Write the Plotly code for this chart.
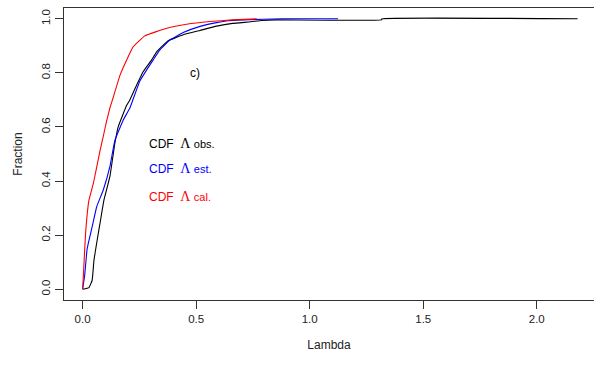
import plotly.graph_objects as go

# Empirical CDFs of Lambda: observed, estimated, calculated
obs_lambda = [0, 0.028, 0.042, 0.05, 0.064, 0.079, 0.094, 0.12, 0.142, 0.157, 0.194,
              0.208, 0.238, 0.267, 0.304, 0.326, 0.377, 0.443, 0.517, 0.59, 0.66,
              0.74, 0.79, 0.85, 1.317, 1.317, 2.18]
obs_frac = [0, 0.006, 0.033, 0.107, 0.181, 0.256, 0.33, 0.416, 0.54, 0.601, 0.68,
            0.70, 0.755, 0.805, 0.848, 0.878, 0.919, 0.941, 0.957, 0.973, 0.983,
            0.989, 0.994, 0.996, 0.996, 1.0, 1.0]

est_lambda = [0, 0.009, 0.02, 0.042, 0.062, 0.091, 0.12, 0.142, 0.179, 0.208, 0.252,
              0.282, 0.311, 0.34, 0.385, 0.443, 0.517, 0.59, 0.64, 0.71, 0.88, 1.125]
est_frac = [0, 0.05, 0.15, 0.231, 0.305, 0.367, 0.453, 0.55, 0.626, 0.67, 0.77,
            0.811, 0.848, 0.885, 0.922, 0.949, 0.972, 0.986, 0.993, 0.996, 1.0, 1.0]

cal_lambda = [0, 0.006, 0.013, 0.028, 0.047, 0.076, 0.091, 0.105, 0.12, 0.135, 0.164,
              0.194, 0.223, 0.274, 0.37, 0.458, 0.56, 0.66, 0.767]
cal_frac = [0, 0.095, 0.206, 0.33, 0.39, 0.51, 0.565, 0.62, 0.67, 0.71, 0.79,
            0.848, 0.897, 0.937, 0.965, 0.98, 0.99, 0.996, 1.0]

x_ticks = [0.0, 0.5, 1.0, 1.5, 2.0]
y_ticks = [0.0, 0.2, 0.4, 0.6, 0.8, 1.0]

series = [
    ("obs.", obs_lambda, obs_frac, "#000000"),
    ("est.", est_lambda, est_frac, "#0000FF"),
    ("cal.", cal_lambda, cal_frac, "#FF0000"),
]

fig = go.Figure()
for name, xs, ys, col in series:
    fig.add_trace(go.Scatter(x=xs, y=ys, mode="lines", name=name,
                             line=dict(color=col, width=1.1, shape="spline", smoothing=0.3),
                             showlegend=False))

# Panel label and in-plot legend text
fig.add_annotation(x=0.495, y=0.80, text="c)", showarrow=False,
                   font=dict(size=12, color="#000000"))
label_y = [0.54, 0.447, 0.344]
for (name, xs, ys, col), yy in zip(series, label_y):
    fig.add_annotation(
        x=0.285, y=yy, xanchor="left",
        text=("CDF  <span style='font-family:Liberation Serif;font-size:14px'>Λ</span>"
              " <span style='font-size:11px'>" + name + "</span>"),
        showarrow=False, font=dict(size=12, color=col))

axis_common = dict(showline=True, linecolor="#333333", linewidth=1,
                   ticks="outside", ticklen=8, tickcolor="#333333",
                   showgrid=False, zeroline=False,
                   tickfont=dict(size=11.5, color="#222222"))

fig.update_layout(
    width=594, height=367,
    margin=dict(l=64, r=0, t=8, b=67),
    paper_bgcolor="white", plot_bgcolor="white",
    font=dict(family="Liberation Sans, Arial, sans-serif", color="#222222"),
    xaxis=dict(range=[-0.082, 2.252], tickvals=x_ticks,
               ticktext=[f"{v:.1f}" for v in x_ticks], mirror=True,
               title=dict(text="Lambda", standoff=16, font=dict(size=12)),
               **axis_common),
    yaxis=dict(range=[-0.04, 1.04], tickvals=y_ticks,
               ticktext=[f"{v:.1f}" for v in y_ticks], tickangle=-90,
               title=dict(text="Fraction", standoff=15, font=dict(size=12)),
               **axis_common),
)

fig.write_html("out.html")
